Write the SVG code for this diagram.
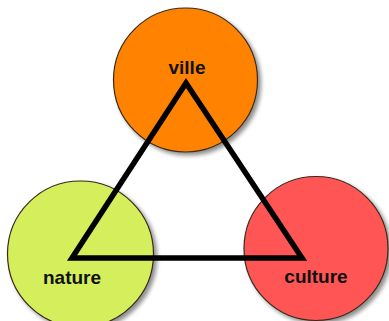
<svg xmlns="http://www.w3.org/2000/svg" width="389" height="321" viewBox="0 0 389 321">
<defs>
<filter id="sh" x="-20%" y="-20%" width="140%" height="140%">
<feGaussianBlur in="SourceAlpha" stdDeviation="2"/>
<feOffset dx="3" dy="3" result="b"/>
<feComponentTransfer><feFuncA type="linear" slope="0.45"/></feComponentTransfer>
<feMerge><feMergeNode/><feMergeNode in="SourceGraphic"/></feMerge>
</filter>
<style>
.c{stroke:#3a2a1a;stroke-width:1.2;filter:url(#sh)}
.t{font-family:"Liberation Sans",Arial,sans-serif;font-weight:bold;font-size:19px;fill:#111;text-anchor:middle}
.e{fill:none;stroke:#000;stroke-width:5.5;stroke-linejoin:miter}
</style>
</defs>
<rect width="389" height="321" fill="#fff"/>
<g id="ville"><circle class="c" cx="185.5" cy="80" r="72" fill="#FF8200"/></g>
<g id="nature"><circle class="c" cx="80.5" cy="254" r="73" fill="#D4EE5C"/></g>
<g id="culture"><circle class="c" cx="316" cy="248.5" r="72" fill="#FF5555"/></g>
<g id="connectors">
<polygon class="e" points="186,83 72,258 302,258"/>
</g>
<g id="labels">
<text class="t" x="187" y="74">ville</text>
<text class="t" x="72" y="284">nature</text>
<text class="t" x="316" y="283">culture</text>
</g>
</svg>
